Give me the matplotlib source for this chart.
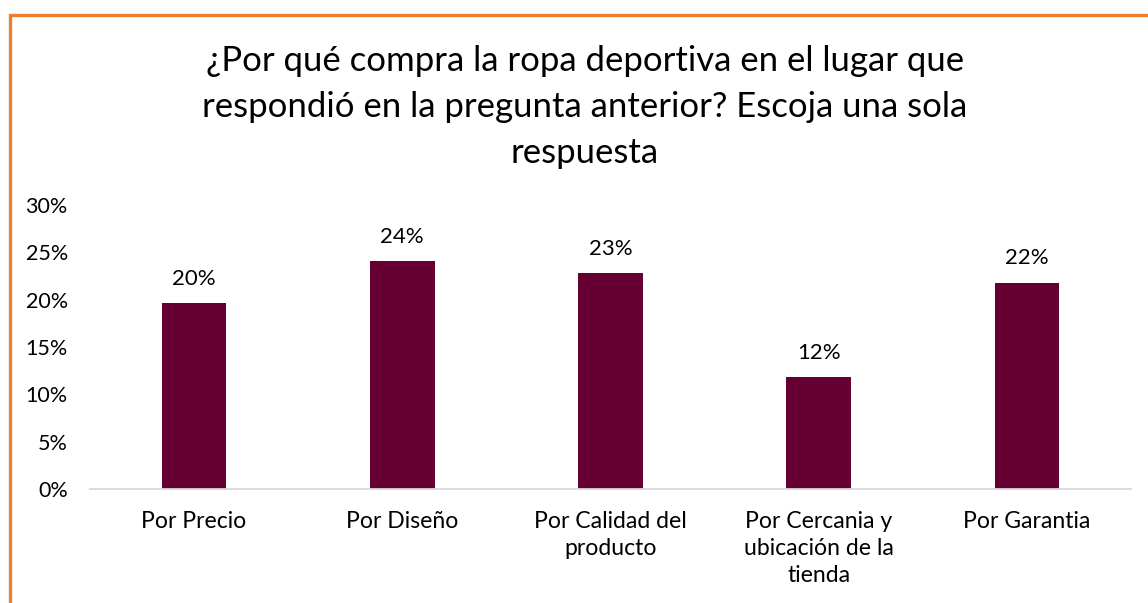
import matplotlib
matplotlib.use("Agg")
import matplotlib.pyplot as plt
from matplotlib.patches import Rectangle
from matplotlib.ticker import PercentFormatter

categories = ["Por Precio", "Por Diseño", "Por Calidad del\nproducto",
              "Por Cercania y\nubicación de la\ntienda", "Por Garantia"]
values = [19.6, 24.1, 22.8, 11.8, 21.8]
yticks = [0, 5, 10, 15, 20, 25, 30]

title = ("¿Por qué compra la ropa deportiva en el lugar que\n"
         "respondió en la pregunta anterior? Escoja una sola\nrespuesta")

bar_color = "#660033"
border_color = "#ED7D31"

plt.rcParams["font.family"] = ["Lato", "DejaVu Sans"]

fig = plt.figure(figsize=(11.48, 6.03), dpi=100)
ax = fig.add_axes([90 / 1148, 1 - 489 / 603, 1041 / 1148, 284 / 603])

x = range(len(categories))
bars = ax.bar(x, values, width=0.31, color=bar_color)
for b, v in zip(bars, values):
    ax.text(b.get_x() + b.get_width() / 2, v + 1.5, f"{v:.0f}%",
            ha="center", va="bottom", fontsize=16, color="#000000")

ax.set_xlim(-0.5, len(categories) - 0.5)
ax.set_ylim(0, 30)
ax.set_yticks(yticks)
ax.yaxis.set_major_formatter(PercentFormatter(decimals=0))
ax.set_xticks(list(x))
ax.set_xticklabels(categories, fontsize=16.6, linespacing=1.36)
ax.tick_params(axis="y", length=0, labelsize=15.5, pad=16)
ax.tick_params(axis="x", length=0, pad=16)
for s in ["top", "right", "left"]:
    ax.spines[s].set_visible(False)
ax.spines["bottom"].set_color("#D9D9D9")
ax.spines["bottom"].set_linewidth(1.3)

fig.text(585 / 1148, 1 - 107 / 603, title, ha="center", va="center",
         fontsize=25, linespacing=1.53)

fig.patches.append(Rectangle((9.5 / 1148, -0.05), 1.2, 1 - 14.5 / 603 + 0.05,
                             transform=fig.transFigure, fill=False,
                             edgecolor=border_color, linewidth=2.4))

fig.savefig("out.png", dpi=100)
